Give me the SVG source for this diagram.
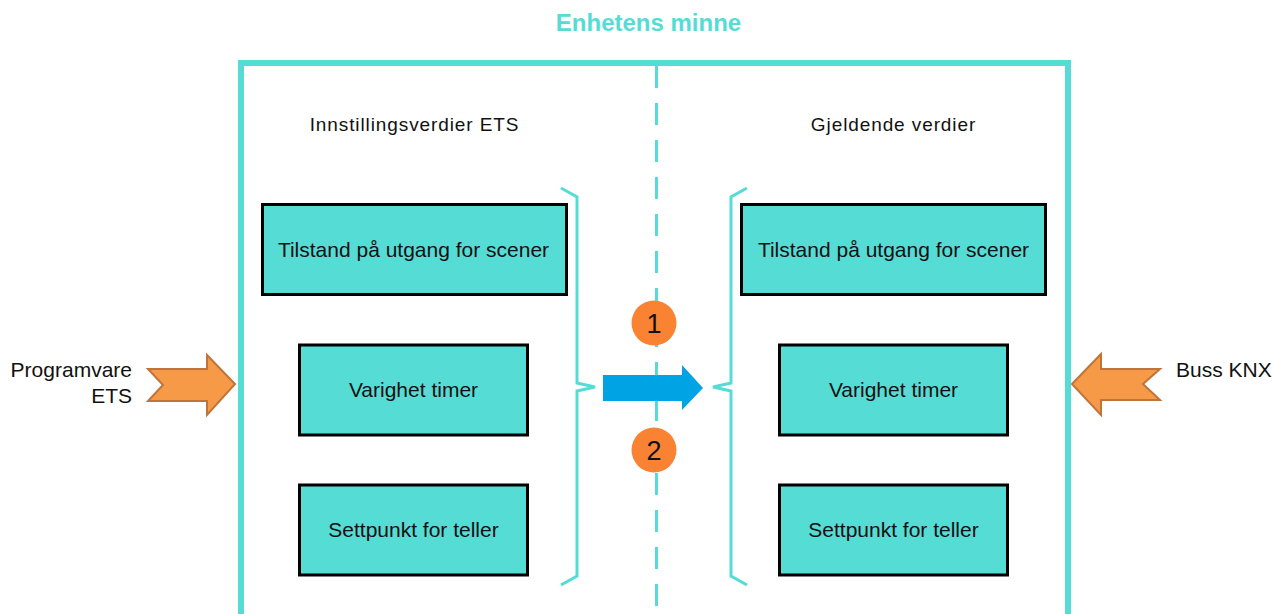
<svg xmlns="http://www.w3.org/2000/svg" width="1273" height="614" viewBox="0 0 1273 614">
<style>
text{font-family:"Liberation Sans",Arial,sans-serif;fill:#111}
.box rect{fill:#55DDD5;stroke:#000;stroke-width:3}
.box text{font-size:21px;text-anchor:middle}
.tq{fill:none;stroke:#55DDD5}
.lbl{font-size:19px;letter-spacing:0.9px;text-anchor:middle}
.side{font-size:21px}
.orange{fill:#F79A48;stroke:#C0743A;stroke-width:2;stroke-linejoin:miter}
.num circle{fill:#FA8233}
.num text{font-size:27px;text-anchor:middle}
</style>
<rect width="1273" height="614" fill="#fff"/>
<g id="frame">
<path class="tq" d="M241,614 V63 H1068 V614" stroke-width="6"/>
<line class="tq" x1="656.5" y1="66" x2="656.5" y2="614" stroke-width="3" stroke-dasharray="22 15"/>
<text x="648.5" y="31" style="font-size:24px;font-weight:bold;text-anchor:middle;fill:#55DDD5">Enhetens minne</text>
</g>
<g id="labels">
<text class="lbl" x="414.5" y="131">Innstillingsverdier ETS</text>
<text class="lbl" x="893.5" y="131">Gjeldende verdier</text>
</g>
<g id="braces">
<path class="tq" stroke-width="3" d="M561,188 L577,197 L577,383 L595,387 L577,391 L577,576 L561,585"/>
<path class="tq" stroke-width="3" d="M747,188 L731,197 L731,383 L713,387 L731,391 L731,576 L747,585"/>
</g>
<g id="box-l1" class="box"><rect x="262.5" y="204.5" width="304" height="90"/><text x="413.5" y="256.5">Tilstand på utgang for scener</text></g>
<g id="box-l2" class="box"><rect x="299.5" y="345" width="228" height="90"/><text x="413.5" y="396.5">Varighet timer</text></g>
<g id="box-l3" class="box"><rect x="299.5" y="485" width="228" height="90"/><text x="413.5" y="536.5">Settpunkt for teller</text></g>
<g id="box-r1" class="box"><rect x="741.5" y="204.5" width="304" height="90"/><text x="893.5" y="256.5">Tilstand på utgang for scener</text></g>
<g id="box-r2" class="box"><rect x="779.5" y="345" width="228" height="90"/><text x="893.5" y="396.5">Varighet timer</text></g>
<g id="box-r3" class="box"><rect x="779.5" y="485" width="228" height="90"/><text x="893.5" y="536.5">Settpunkt for teller</text></g>
<g id="connectors">
<path d="M603,375 H682 V365 L703,388 L682,410 V401 H603 Z" fill="#00A3E3"/>
</g>
<g id="num1" class="num"><circle cx="654" cy="323" r="22.5"/><text x="654" y="333">1</text></g>
<g id="num2" class="num"><circle cx="654" cy="450" r="22.5"/><text x="654" y="460">2</text></g>
<g id="ets">
<path class="orange" d="M148,369 H207 V355 L235,384 L207,415 V401 H148 L163,385 Z"/>
<text class="side" x="132" y="377" text-anchor="end">Programvare</text>
<text class="side" x="132" y="403" text-anchor="end">ETS</text>
</g>
<g id="knx">
<path class="orange" d="M1072,384 L1101,354 V369 H1160 L1143,384 L1160,400 H1101 V415 Z"/>
<text class="side" x="1176" y="377">Buss KNX</text>
</g>
</svg>
